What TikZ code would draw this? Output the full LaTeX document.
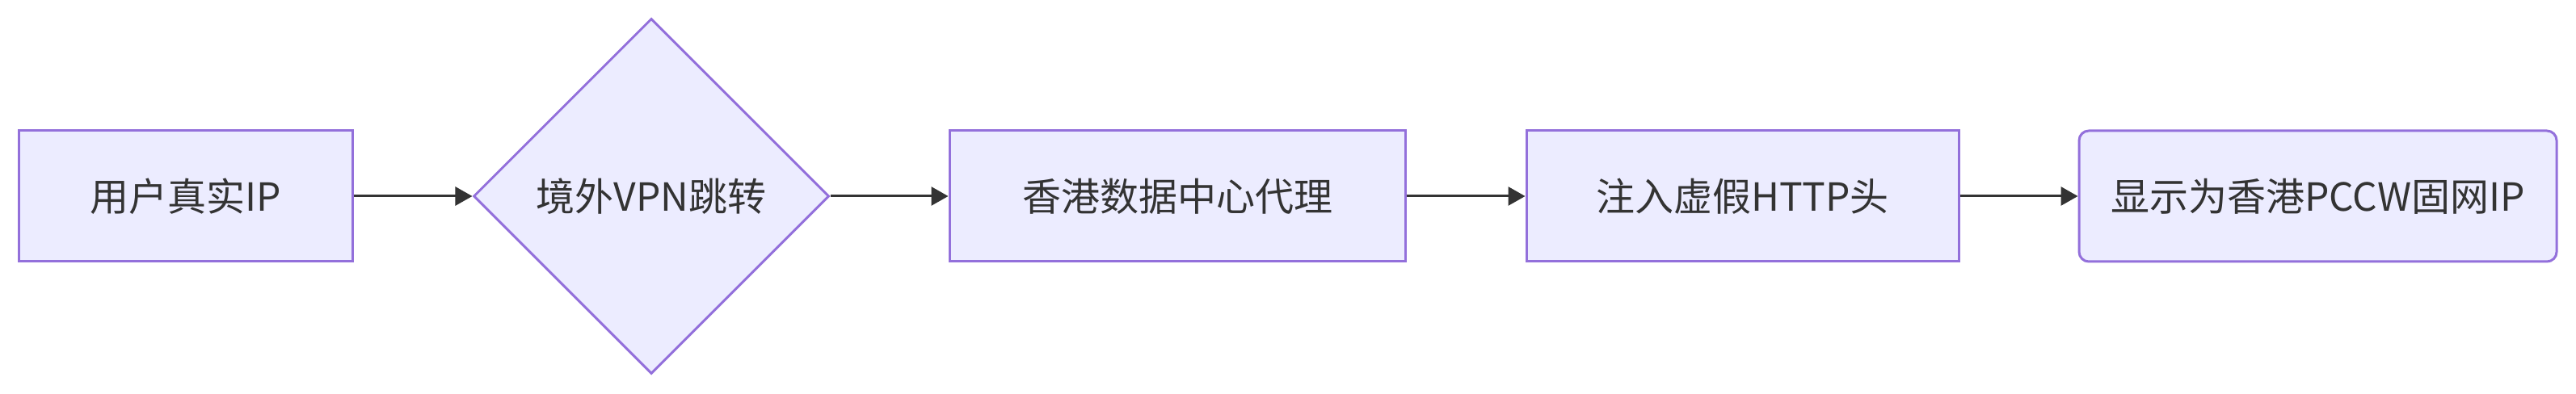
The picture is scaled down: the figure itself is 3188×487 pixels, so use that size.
\documentclass[tikz,border=0pt]{standalone}
\usepackage{fontspec}
\setmainfont{Noto Sans CJK SC}
\usetikzlibrary{shapes.geometric,arrows.meta}
\definecolor{nodefill}{HTML}{ECECFF}
\definecolor{nodeline}{HTML}{9370DB}
\definecolor{ink}{HTML}{333333}
\begin{document}
\begin{tikzpicture}[x=0.5pt,y=0.5pt,
  every node/.style={font=\fontsize{24pt}{28pt}\selectfont, text=ink},
  procbox/.style={draw=nodeline, fill=nodefill, line width=1.5pt, inner sep=0pt, minimum height=81pt},
  choice/.style={diamond, aspect=1, draw=nodeline, fill=nodefill, line width=1.5pt, inner sep=0pt, minimum width=220pt, minimum height=220pt},
  flow/.style={draw=ink, line width=1.5pt, -{Triangle[length=10.5pt,width=11.5pt]}}]
\useasboundingbox (0,0) rectangle (3188,487);
\node[procbox, minimum width=206.5pt] (a) at (229.5,244) {用户真实IP};
\node[choice] (b) at (806,244) {境外VPN跳转};
\node[procbox, minimum width=282pt] (c) at (1457,244) {香港数据中心代理};
\node[procbox, minimum width=267.5pt] (d) at (2156.5,244) {注入虚假HTTP头};
\node[procbox, rounded corners=6pt, minimum width=295.5pt] (e) at (2868.5,244) {显示为香港PCCW固网IP};
\draw[flow] (a) -- (b);
\draw[flow] (b) -- (c);
\draw[flow] (c) -- (d);
\draw[flow] (d) -- (e);
\end{tikzpicture}
\end{document}
